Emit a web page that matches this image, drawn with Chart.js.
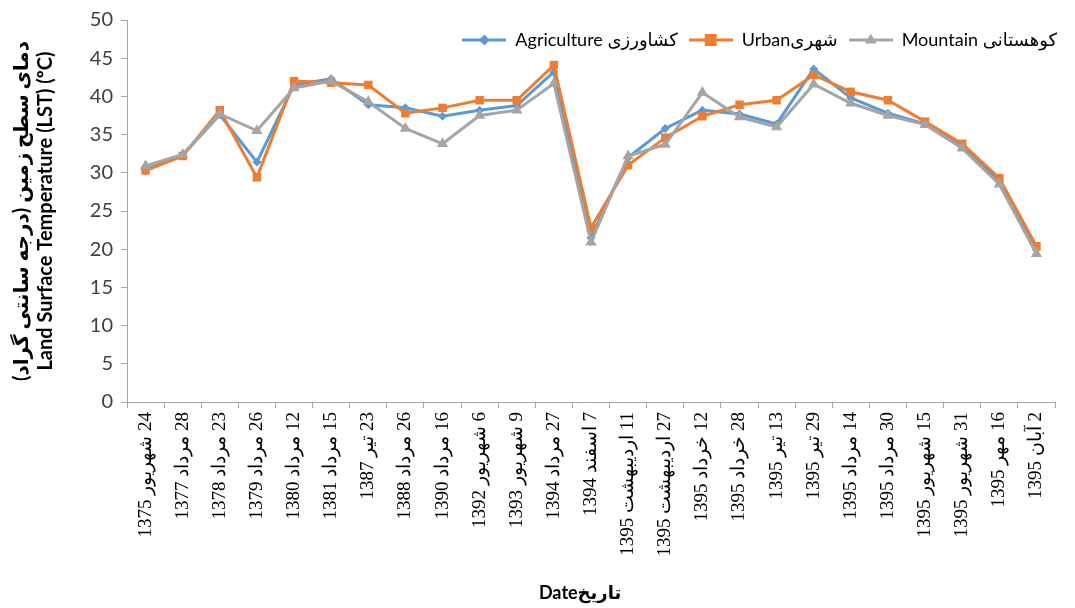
<!DOCTYPE html>
<html>
<head>
<meta charset="utf-8">
<script src="https://cdn.jsdelivr.net/npm/chart.js@4/dist/chart.umd.min.js"></script>
<style>
    html, body { margin: 0; padding: 0; background: #fff; }
    #wrap { width: 1075px; height: 608px; }
</style>
</head>
<body>
<div id="wrap"><canvas id="lst-chart" width="1075" height="608"></canvas></div>
<script>
// تاریخ ها (نمایش از پایین به بالا)
const dateLabels = [
    '1375 شهریور\u200E 24', '1377 مرداد\u200E 28', '1378 مرداد\u200E 23', '1379 مرداد\u200E 26',
    '1380 مرداد\u200E 12', '1381 مرداد\u200E 15', '1387 تیر\u200E 23', '1388 مرداد\u200E 26',
    '1390 مرداد\u200E 16', '1392 شهریور\u200E 6', '1393 شهریور\u200E 9', '1394 مرداد\u200E 27',
    '1394 اسفند\u200E 7', '1395 اردیبهشت\u200E 11', '1395 اردیبهشت\u200E 27', '1395 خرداد\u200E 12',
    '1395 خرداد\u200E 28', '1395 تیر\u200E 13', '1395 تیر\u200E 29', '1395 مرداد\u200E 14',
    '1395 مرداد\u200E 30', '1395 شهریور\u200E 15', '1395 شهریور\u200E 31', '1395 مهر\u200E 16',
    '1395 آبان\u200E 2'
];

const agriculture = [30.4, 32.3, 37.6, 31.4, 41.5, 42.3, 38.9, 38.5, 37.4, 38.2, 38.8, 43.2, 21.5,
    32.0, 35.8, 38.2, 37.7, 36.4, 43.6, 39.8, 37.8, 36.4, 33.5, 29.0, 20.0];
const urban = [30.3, 32.2, 38.2, 29.4, 42.0, 41.8, 41.5, 37.8, 38.5, 39.5, 39.5, 44.1, 22.8,
    31.0, 34.6, 37.4, 38.9, 39.5, 42.8, 40.6, 39.5, 36.7, 33.8, 29.3, 20.4];
const mountain = [30.9, 32.4, 37.7, 35.5, 41.1, 42.0, 39.3, 35.8, 33.8, 37.5, 38.2, 41.7, 20.9,
    32.2, 33.7, 40.5, 37.3, 36.0, 41.6, 39.1, 37.5, 36.3, 33.2, 28.5, 19.4];

const yTicks = [0, 5, 10, 15, 20, 25, 30, 35, 40, 45, 50];

const seriesNames = ['Agriculture کشاورزی', 'Urbanشهری', 'Mountain کوهستانی'];
const seriesColors = ['#5B9BD5', '#ED7D31', '#A5A5A5'];
const seriesMarkers = ['rectRot', 'rect', 'triangle'];
const markerSizes = [4.5, 6, 6.5];

const SANS = "Lato, 'DejaVu Sans', sans-serif";
const SERIF = "'Liberation Serif', 'DejaVu Serif', serif";

// نماد راهنما: خط + نشانگر
function legendIcon(color, marker, r) {
    const c = document.createElement('canvas');
    c.width = 44; c.height = 16;
    const g = c.getContext('2d');
    const cx = 22, cy = 8;
    g.strokeStyle = color; g.lineWidth = 3;
    g.beginPath(); g.moveTo(0, cy); g.lineTo(44, cy); g.stroke();
    g.fillStyle = color;
    g.beginPath();
    if (marker === 'rect') { g.fillRect(cx - r, cy - r, 2 * r, 2 * r); }
    else if (marker === 'rectRot') { g.moveTo(cx, cy - r - 1); g.lineTo(cx + r + 1, cy); g.lineTo(cx, cy + r + 1); g.lineTo(cx - r - 1, cy); g.closePath(); g.fill(); }
    else { g.moveTo(cx, cy - r); g.lineTo(cx + r * 0.9, cy + r * 0.55); g.lineTo(cx - r * 0.9, cy + r * 0.55); g.closePath(); g.fill(); }
    return c;
}

// ترتیب رسم مثل اکسل: کوهستانی روی همه
const drawOrder = [3, 2, 1];

const datasets = [agriculture, urban, mountain].map((vals, i) => ({
    label: seriesNames[i],
    data: vals,
    borderColor: seriesColors[i],
    backgroundColor: seriesColors[i],
    borderWidth: 3,
    pointStyle: seriesMarkers[i],
    pointRadius: markerSizes[i],
    pointBorderWidth: 0,
    tension: 0,
    order: drawOrder[i]
}));

// راهنما روی ناحیه نمودار، بدون گرفتن فضا
const overlayLegend = {
    id: 'overlayLegend',
    beforeLayout(chart) {
        const lg = chart.legend;
        if (!lg || lg._overlay) return;
        const fit = lg.fit;
        lg.fit = function () { fit.call(this); this._realH = this.height; this.height = 0; };
        lg._overlay = true;
    },
    afterLayout(chart) {
        const lg = chart.legend;
        lg.left += 13;
        lg.right += 13;
        lg.height = lg._realH;
        lg.bottom = lg.top + lg._realH;
    }
};

new Chart(document.getElementById('lst-chart'), {
    type: 'line',
    data: { labels: dateLabels, datasets: datasets },
    plugins: [overlayLegend],
    options: {
        responsive: false,
        animation: false,
        devicePixelRatio: 1,
        layout: { padding: { left: 6, right: 20, top: 18, bottom: 4 } },
        plugins: {
            tooltip: { enabled: false },
            legend: {
                position: 'top',
                align: 'end',
                labels: {
                    usePointStyle: true,
                    pointStyleWidth: 44,
                    padding: 11,
                    color: '#000',
                    font: { family: SANS, size: 18 },
                    generateLabels: chart => chart.data.datasets.map((ds, i) => ({
                        text: ds.label,
                        pointStyle: legendIcon(seriesColors[i], seriesMarkers[i], markerSizes[i]),
                        fillStyle: seriesColors[i],
                        strokeStyle: seriesColors[i],
                        lineWidth: 0,
                        hidden: false,
                        datasetIndex: i,
                        fontColor: '#000'
                    }))
                }
            }
        },
        scales: {
            x: {
                offset: true,
                grid: { display: true, drawOnChartArea: false, drawTicks: true, tickLength: 6, color: '#A6A6A6', offset: true },
                border: { display: true, color: '#A6A6A6', width: 1 },
                ticks: {
                    autoSkip: false,
                    maxRotation: 90,
                    minRotation: 90,
                    padding: 4,
                    color: '#000',
                    font: { family: SERIF, size: 19 }
                },
                title: {
                    display: true,
                    text: 'Dateتاریخ\u00A0\u00A0\u00A0\u00A0\u00A0',
                    color: '#000',
                    font: { family: SANS, size: 18, weight: 'bold' },
                    padding: { top: 2, bottom: 0 }
                },
                afterFit: s => { s.height = 202; }
            },
            y: {
                min: 0,
                max: 50,
                afterBuildTicks: s => { s.ticks = yTicks.map(v => ({ value: v })); },
                grid: { display: true, drawOnChartArea: false, drawTicks: true, tickLength: 6, color: '#A6A6A6' },
                border: { display: true, color: '#A6A6A6', width: 1 },
                ticks: {
                    padding: 8,
                    color: '#404040',
                    font: { family: SANS, size: 20 }
                },
                title: {
                    display: true,
                    text: ['دمای سطح زمین (درجه سانتی گراد)', 'Land Surface Temperature (LST) (ºC)'],
                    color: '#000',
                    font: { family: SANS, size: 20, weight: 'bold', lineHeight: 1.2 },
                    padding: { top: 4, bottom: 4 }
                },
                afterFit: s => { s.width = 121; }
            }
        }
    }
});
</script>
</body>
</html>
